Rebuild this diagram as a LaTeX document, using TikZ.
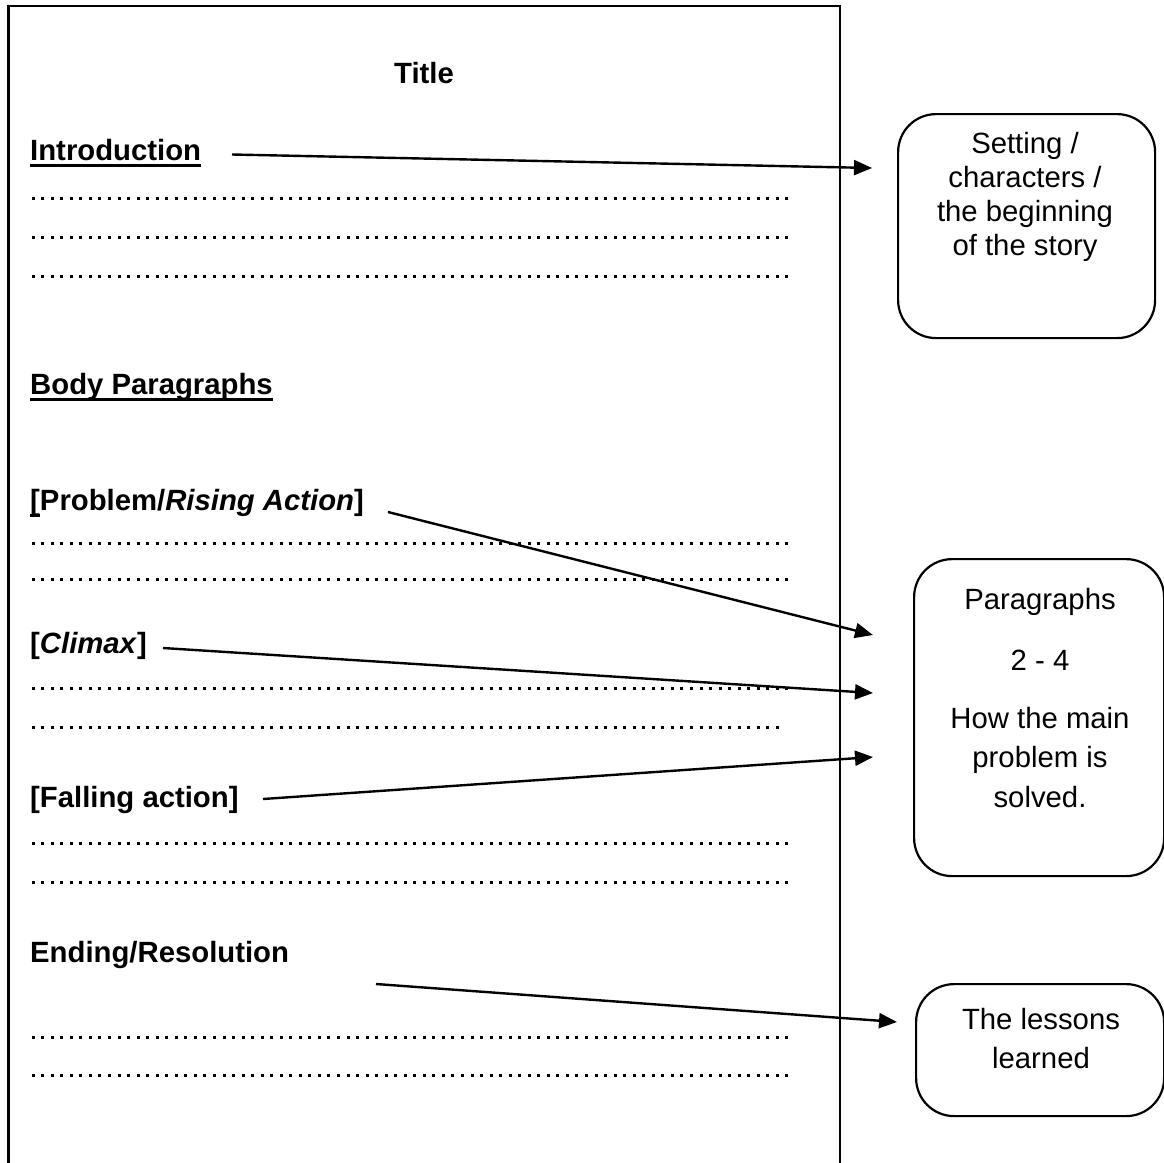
\documentclass[tikz,border=0pt]{standalone}
\usepackage{fontspec}
\setmainfont{Liberation Sans}
\usetikzlibrary{arrows.meta}
\newcommand\ulbox[1]{\setbox0\hbox{#1}\rlap{\rule[-7pt]{\wd0}{3.5pt}}\box0}
\begin{document}
\begin{tikzpicture}[x=1pt,y=-1pt,
  head/.style={font=\fontsize{29.3pt}{34pt}\selectfont\bfseries, inner sep=0pt, anchor=base west},
  btxt/.style={font=\fontsize{29.3pt}{34pt}\selectfont, inner sep=0pt, anchor=base},
  note/.style={draw, line width=2.2pt, rounded corners=38pt, inner sep=0pt, anchor=north west},
  dotrow/.style={line width=3pt, dash pattern=on 3pt off 6.54pt},
  link/.style={line width=2.4pt, -{Triangle[length=18pt,width=15pt]}},
]
\useasboundingbox (0,0) rectangle (1164,1162);
\fill[white] (0,0) rectangle (1164,1162);

% page frame
\draw[line width=2.5pt] (8.5,1170) -- (8.5,6) -- (840,6) -- (840,1170);

% headings
\node[head, anchor=base] (title) at (424,83) {Title};
\node[head] (intro) at (30,160) {\ulbox{Introduction}};
\node[head] (body) at (30,394) {\ulbox{Body Paragraphs}};
\node[head] (problem) at (30,510) {\ulbox{[}Problem/\textit{Rising Action}]};
\node[head] (climax) at (30,653) {[\textit{Climax}]};
\node[head] (falling) at (30,807) {[Falling action]};
\node[head] (ending) at (30,962) {Ending/Resolution};

% dotted writing lines
\foreach \yy in {198,237,276,543,579,688,843,882,1037,1075}
  \draw[dotrow] (31.7,\yy) -- (789.5,\yy);
\draw[dotrow] (31.7,727) -- (785,727);

% note boxes
\node[note, minimum width=257pt, minimum height=224pt] (box1) at (897,113) {};
\node[note, minimum width=250pt, minimum height=317pt] (box2) at (913,558) {};
\node[note, minimum width=248pt, minimum height=132pt] (box3) at (915,983) {};

\node[btxt] (b1a) at (1025,153) {Setting /};
\node[btxt] (b1b) at (1025,187) {characters /};
\node[btxt] (b1c) at (1025,221) {the beginning};
\node[btxt] (b1d) at (1025,255) {of the story};

\node[btxt] (b2a) at (1040,609) {Paragraphs};
\node[btxt] (b2b) at (1040,670) {2 - 4};
\node[btxt] (b2c) at (1040,728) {How the main};
\node[btxt] (b2d) at (1040,767.5) {problem is};
\node[btxt] (b2e) at (1040,807) {solved.};

\node[btxt] (b3a) at (1041,1029) {The lessons};
\node[btxt] (b3b) at (1041,1068) {learned};

% connector end points
\coordinate (s1) at (232,154.5);
\coordinate (t1) at (872,168);
\coordinate (s2) at (388,512);
\coordinate (t2) at (873,635);
\coordinate (s3) at (163,648);
\coordinate (t3) at (873,693);
\coordinate (s4) at (263,799);
\coordinate (t4) at (873,757);
\coordinate (s5) at (376,984);
\coordinate (t5) at (897,1022);

\draw[link] (s1) -- (t1);
\draw[link] (s2) -- (t2);
\draw[link] (s3) -- (t3);
\draw[link] (s4) -- (t4);
\draw[link] (s5) -- (t5);
\end{tikzpicture}
\end{document}
